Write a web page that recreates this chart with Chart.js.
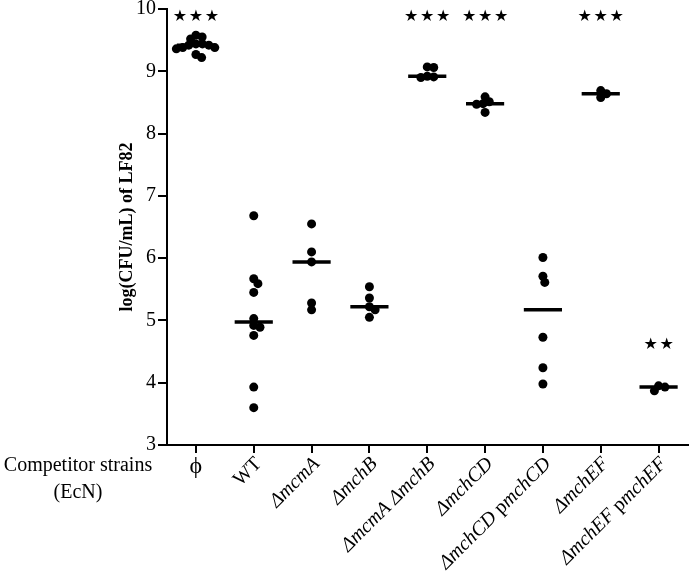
<!DOCTYPE html>
<html>
<head>
  <meta charset="UTF-8">
  <title>LF82 competition</title>
  <script src="https://cdn.jsdelivr.net/npm/chart.js"></script>
  <style>
    body {
      margin: 0;
      background: #fff;
    }
    #wrap {
      width: 692px;
      height: 584px;
    }
  </style>
</head>
<body>
  <div id="wrap">
    <canvas id="chart" width="692" height="584"></canvas>
  </div>

  <script>
    // x categories; text between * is drawn in italics
    const strains = ['ϕ', 'WT', '*ΔmcmA*', '*ΔmchB*', '*ΔmcmA* *ΔmchB*', '*ΔmchCD*',
      '*ΔmchCD* p*mchCD*', '*ΔmchEF*', '*ΔmchEF* p*mchEF*'];

    // log(CFU/mL) of LF82, one array per competitor strain
    const noCompetitor = [9.58, 9.55, 9.52, 9.44, 9.44, 9.42, 9.42, 9.38, 9.38, 9.36, 9.27, 9.22];
    const wt = [6.68, 5.67, 5.59, 5.45, 5.03, 4.92, 4.89, 4.76, 3.93, 3.60];
    const mcmA = [6.55, 6.10, 5.94, 5.28, 5.17];
    const mchB = [5.54, 5.36, 5.22, 5.17, 5.05];
    const mcmAmchB = [9.07, 9.06, 8.92, 8.91, 8.90];
    const mchCD = [8.59, 8.51, 8.48, 8.47, 8.34];
    const mchCDcomp = [6.01, 5.71, 5.61, 4.73, 4.24, 3.98];
    const mchEF = [8.69, 8.64, 8.58];
    const mchEFcomp = [3.95, 3.93, 3.87];

    const groups = [noCompetitor, wt, mcmA, mchB, mcmAmchB, mchCD, mchCDcomp, mchEF, mchEFcomp];
    const significance = ['★★★', '', '', '', '★★★', '★★★', '', '★★★', '★★'];
    const yTicks = [3, 4, 5, 6, 7, 8, 9, 10];

    const serif = "'Liberation Serif', 'Times New Roman', serif";
    const labelSize = 20;

    function median(vals) {
      const s = [...vals].sort((a, b) => a - b);
      const m = Math.floor(s.length / 2);
      return s.length % 2 ? s[m] : (s[m - 1] + s[m]) / 2;
    }

    // spread dots sideways so they don't pile up (like a prism scatter dot plot)
    function swarm(pys, d) {
      const order = pys.map((p, k) => k).sort((a, b) => pys[a] - pys[b]);
      const placed = [];
      const out = [];
      order.forEach(k => {
        const py = pys[k];
        const blocks = placed
          .filter(p => Math.abs(p.y - py) < d)
          .map(p => {
            const w = Math.sqrt(d * d - (p.y - py) ** 2);
            return [p.x - w, p.x + w];
          });
        const cands = [0];
        blocks.forEach(b => cands.push(b[0], b[1]));
        cands.sort((a, b) => Math.abs(a) - Math.abs(b) || b - a);
        const x = cands.find(c => blocks.every(b => c <= b[0] + 1e-6 || c >= b[1] - 1e-6));
        placed.push({ x: x, y: py });
        out[k] = x;
      });
      return out;
    }

    const medianLines = [];
    groups.forEach((vals, i) => {
      const m = median(vals);
      medianLines.push({ x: i - 0.33, y: m }, { x: i + 0.33, y: m }, { x: i + 0.5, y: null });
    });

    const extraText = {
      id: 'extraText',
      afterDraw(chart, args, opts) {
        const { ctx, scales: { x, y } } = chart;
        ctx.save();
        ctx.fillStyle = '#000';

        // x labels, rotated except the first one
        strains.forEach((label, i) => {
          const px = x.getPixelForValue(i);
          ctx.save();
          if (i === 0) {
            ctx.font = '24px ' + serif;
            ctx.textAlign = 'center';
            ctx.textBaseline = 'middle';
            ctx.fillText(label, px, x.top + 22);
          } else {
            const parts = label.split('*');
            let total = 0;
            parts.forEach((p, k) => {
              ctx.font = (k % 2 ? 'italic ' : '') + labelSize + 'px ' + serif;
              total += ctx.measureText(p).width;
            });
            ctx.translate(px + 5, x.top + 16);
            ctx.rotate(-Math.PI / 4);
            ctx.textAlign = 'left';
            ctx.textBaseline = 'middle';
            let cx = -total;
            parts.forEach((p, k) => {
              ctx.font = (k % 2 ? 'italic ' : '') + labelSize + 'px ' + serif;
              ctx.fillText(p, cx, 0);
              cx += ctx.measureText(p).width;
            });
          }
          ctx.restore();
        });

        // row title on the left
        ctx.font = labelSize + 'px ' + serif;
        ctx.textAlign = 'center';
        ctx.textBaseline = 'middle';
        ctx.fillText('Competitor strains', chart.chartArea.left - 89, x.top + 21);
        ctx.fillText('(EcN)', chart.chartArea.left - 89, x.top + 48);

        // significance stars
        ctx.font = "16px 'DejaVu Sans'";
        significance.forEach((s, i) => {
          if (!s) return;
          const stars = [...s];
          const px = x.getPixelForValue(i);
          const py = y.getPixelForValue(opts.levels[i]);
          stars.forEach((st, k) => {
            ctx.fillText(st, px + (k - (stars.length - 1) / 2) * 16, py);
          });
        });
        ctx.restore();
      }
    };

    const ctx = document.getElementById('chart').getContext('2d');
    const chart = new Chart(ctx, {
      type: 'scatter',
      data: {
        datasets: [{
          label: 'LF82',
          data: groups.flatMap((vals, i) => vals.map(v => ({ x: i, y: v }))),
          backgroundColor: '#000',
          borderWidth: 0,
          pointRadius: 4.5,
          pointHoverRadius: 4.5
        }, {
          type: 'line',
          label: 'median',
          data: medianLines,
          borderColor: '#000',
          borderWidth: 3.5,
          pointRadius: 0,
          spanGaps: false,
          fill: false
        }]
      },
      options: {
        responsive: false,
        animation: false,
        layout: {
          padding: { top: 7, right: 2, bottom: 131, left: 118 }
        },
        plugins: {
          legend: { display: false },
          tooltip: { enabled: false },
          extraText: { levels: [9.88, null, null, null, 9.88, 9.88, null, 9.88, 4.6] }
        },
        scales: {
          x: {
            type: 'linear',
            min: -0.5,
            max: 8.5,
            afterBuildTicks: axis => {
              axis.ticks = strains.map((s, i) => ({ value: i }));
            },
            ticks: { display: false },
            grid: {
              drawOnChartArea: false,
              drawTicks: true,
              tickLength: 8,
              lineWidth: 2,
              color: '#000'
            },
            border: { display: true, color: '#000', width: 2 }
          },
          y: {
            min: 3,
            max: 10,
            afterBuildTicks: axis => {
              axis.ticks = yTicks.map(v => ({ value: v }));
            },
            ticks: {
              color: '#000',
              padding: 2,
              font: { family: serif, size: labelSize, lineHeight: 0.7 }
            },
            grid: {
              drawOnChartArea: false,
              drawTicks: true,
              tickLength: 9,
              lineWidth: 2,
              color: '#000'
            },
            border: { display: true, color: '#000', width: 2 },
            title: {
              display: true,
              text: 'log(CFU/mL) of LF82',
              color: '#000',
              padding: { top: 0, bottom: -2 },
              font: { family: serif, size: 18, weight: 'bold', lineHeight: 1 }
            }
          }
        }
      },
      plugins: [extraText]
    });

    // jitter the dots sideways using pixel distances from the real scales
    const xs = chart.scales.x;
    const ys = chart.scales.y;
    const unit = xs.getPixelForValue(1) - xs.getPixelForValue(0);
    chart.data.datasets[0].data = groups.flatMap((vals, i) => {
      const off = swarm(vals.map(v => ys.getPixelForValue(v)), 6.5);
      return vals.map((v, k) => ({ x: i + off[k] / unit, y: v }));
    });
    chart.update('none');
  </script>
</body>
</html>
